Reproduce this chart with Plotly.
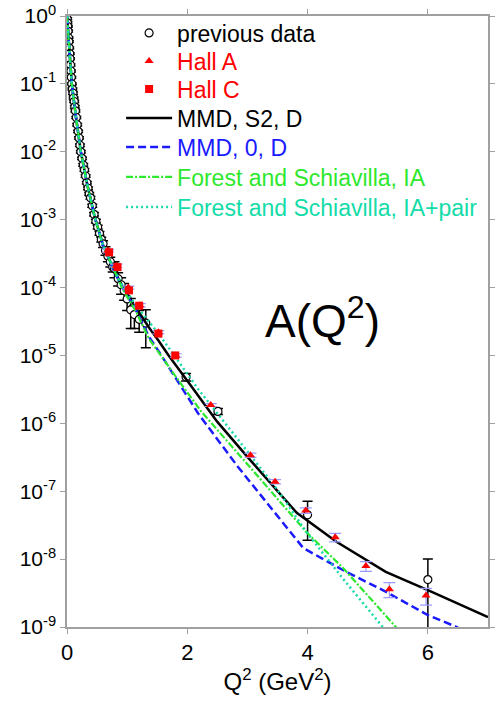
import plotly.graph_objects as go

# ---------------- data ----------------
# previous data: Q^2 (GeV^2), A, error
prev_q2 = [0.003, 0.008, 0.012, 0.018, 0.025, 0.03, 0.037, 0.045, 0.05, 0.058,
           0.065, 0.072, 0.08, 0.09, 0.10, 0.11, 0.12, 0.13, 0.14, 0.155,
           0.17, 0.185, 0.20, 0.215, 0.23, 0.25, 0.27, 0.29, 0.31, 0.33,
           0.35, 0.37, 0.39, 0.42, 0.45, 0.48, 0.51, 0.54, 0.57, 0.60,
           0.64, 0.68, 0.72, 0.76, 0.79, 0.85, 0.90, 0.95, 1.00, 1.06,
           1.12, 1.20, 1.31, 1.98, 2.51, 4.00, 6.00]
prev_a = [0.91, 0.79, 0.70, 0.60, 0.48, 0.42, 0.34, 0.28, 0.235, 0.19,
          0.155, 0.125, 0.10, 0.084, 0.073, 0.062, 0.055, 0.046, 0.040, 0.032,
          0.025, 0.020, 0.016, 0.0125, 0.010, 0.0080, 0.0064, 0.0054, 0.0044, 0.0035,
          0.0029, 0.0024, 0.0021, 0.0016, 0.0012, 9.5e-4, 7.8e-4, 6.3e-4, 5.1e-4, 4.4e-4,
          3.5e-4, 2.9e-4, 2.4e-4, 2.0e-4, 1.9e-4, 1.35e-4, 1.1e-4, 9.0e-5, 6.8e-5, 4.7e-5,
          4.0e-5, 3.4e-5, 3.0e-5, 4.8e-6, 1.5e-6, 4.5e-8, 5.0e-9]
prev_err = [0.03, 0.03, 0.02, 0.02, 0.015, 0.012, 0.01, 0.008, 0.007, 0.006,
            0.005, 0.004, 0.003, 0.003, 0.003, 0.002, 0.002, 0.002, 0.0015, 0.0012,
            0.001, 8e-4, 6e-4, 5e-4, 4e-4, 3e-4, 3e-4, 2.5e-4, 2e-4, 1.6e-4,
            1.4e-4, 1.2e-4, 1e-4, 8e-5, 7e-5, 6e-5, 5e-5, 4e-5, 4e-5, 5e-5,
            5e-5, 5e-5, 4e-5, 3e-5, 5e-5, 3e-5, 3e-5, 2.5e-5, 2.2e-5, 2.2e-5,
            1.5e-5, 1.2e-5, 1.7e-5, 6e-7, 1.5e-7, 2.6e-8, 5.0e-9]

halla_q2 = [0.68, 0.82, 1.02, 1.21, 1.52, 1.81, 2.39, 3.05, 3.46, 3.97, 4.46, 4.97, 5.36, 5.97]
halla_a = [3.5e-4, 2.1e-4, 1.0e-4, 5.5e-5, 2.2e-5, 1.0e-5, 1.86e-6, 3.4e-7, 1.38e-7,
           5.2e-8, 2.1e-8, 7.9e-9, 3.6e-9, 2.9e-9]
halla_err = [1.8e-5, 1.1e-5, 5e-6, 3e-6, 1.2e-6, 6e-7, 9e-8, 2.4e-8, 1.0e-8,
             5e-9, 3e-9, 1.3e-9, 0.9e-9, 0.8e-9]

hallc_q2 = [0.70, 0.84, 1.03, 1.20, 1.52, 1.80]
hallc_a = [3.3e-4, 2.0e-4, 9.1e-5, 5.4e-5, 2.1e-5, 1.0e-5]

mmd_s2_q2 = [0.0, 0.04, 0.08, 0.15, 0.23, 0.34, 0.46, 0.60, 0.77, 0.93, 1.15, 1.36,
             1.52, 1.69, 2.07, 2.50, 3.00, 3.82, 4.48, 5.30, 6.00, 7.00]
mmd_s2_a = [1.0, 0.30, 0.10, 0.032, 0.010, 3.2e-3, 1.1e-3, 4.2e-4, 1.9e-4, 1.0e-4, 5.0e-5, 2.6e-5,
            1.66e-5, 1.0e-5, 3.5e-6, 1.05e-6, 3.2e-7, 4.8e-8, 1.8e-8, 6.5e-9, 3.5e-9, 1.4e-9]

mmd_0_q2 = [0.0, 0.04, 0.08, 0.15, 0.23, 0.34, 0.46, 0.60, 0.77, 0.93, 1.15, 1.36,
            1.52, 2.18, 2.84, 3.93, 4.64, 5.25, 6.00, 6.48, 6.60]
mmd_0_a = [1.0, 0.30, 0.10, 0.032, 0.010, 3.2e-3, 1.1e-3, 4.1e-4, 1.85e-4, 9.6e-5, 4.6e-5, 1.9e-5,
           1.17e-5, 1.4e-6, 2.3e-7, 1.45e-8, 6.5e-9, 3.5e-9, 1.5e-9, 1.0e-9, 8.5e-10]

fs_ia_q2 = [0.0, 0.04, 0.08, 0.15, 0.23, 0.34, 0.46, 0.60, 0.77, 0.93, 1.15, 1.36,
            1.80, 2.23, 3.00, 3.98, 4.59, 5.43, 5.55]
fs_ia_a = [1.0, 0.30, 0.10, 0.032, 0.010, 3.2e-3, 1.1e-3, 4.1e-4, 1.85e-4, 9.3e-5, 4.4e-5, 1.78e-5,
           5.0e-6, 1.5e-6, 2.5e-7, 2.5e-8, 7.4e-9, 1.07e-9, 8.3e-10]

fs_pair_q2 = [0.0, 0.04, 0.08, 0.15, 0.23, 0.34, 0.46, 0.60, 0.77, 0.93, 1.15, 1.54,
              2.18, 2.78, 3.00, 3.50, 3.98, 4.60, 5.25, 5.35]
fs_pair_a = [1.0, 0.30, 0.10, 0.032, 0.010, 3.2e-3, 1.1e-3, 4.2e-4, 1.9e-4, 1.05e-4, 5.4e-5, 2.0e-5,
             3.2e-6, 6.8e-7, 3.8e-7, 1.05e-7, 2.5e-8, 5.0e-9, 1.0e-9, 7.9e-10]

y_tickvals = [1, 1e-1, 1e-2, 1e-3, 1e-4, 1e-5, 1e-6, 1e-7, 1e-8, 1e-9]
y_ticktext = ["10<sup>0</sup>", "10<sup>-1</sup>", "10<sup>-2</sup>", "10<sup>-3</sup>",
              "10<sup>-4</sup>", "10<sup>-5</sup>", "10<sup>-6</sup>", "10<sup>-7</sup>",
              "10<sup>-8</sup>", "10<sup>-9</sup>"]
x_tickvals = [0, 2, 4, 6]

legend_names = ["previous data", "Hall A", "Hall C", "MMD, S2, D", "MMD, 0, D",
                "Forest and Schiavilla, IA", "Forest and Schiavilla, IA+pair"]

# ---------------- styles ----------------
FONT = "Liberation Sans, Arial, sans-serif"
RED = "#ff0000"
BLUE = "#1a1aff"
GREEN = "#2ee82e"
TEAL = "#14dca8"
AXIS = "#a0a0a0"

# one small legend per row (row centres in paper coords of the plot area)
row_y = [0.9722, 0.9264, 0.8805, 0.8331, 0.7856, 0.7365, 0.6874]
row_col = ["black", RED, RED, "black", BLUE, GREEN, TEAL]
LEG_X = 0.1285
LEG_ITEMW = 46

fig = go.Figure()

fig.add_trace(go.Scatter(
    x=prev_q2, y=prev_a, mode="markers", name=legend_names[0], legend="legend",
    marker=dict(symbol="circle", size=8, color="white", line=dict(color="black", width=1.2)),
    error_y=dict(type="data", array=prev_err, color="black", thickness=1.5, width=5),
))
fig.add_trace(go.Scatter(
    x=mmd_s2_q2, y=mmd_s2_a, mode="lines", name=legend_names[3], legend="legend4",
    line=dict(color="black", width=2.5),
))
fig.add_trace(go.Scatter(
    x=mmd_0_q2, y=mmd_0_a, mode="lines", name=legend_names[4], legend="legend5",
    line=dict(color=BLUE, width=2.5, dash="8px,4px"),
))
fig.add_trace(go.Scatter(
    x=fs_ia_q2, y=fs_ia_a, mode="lines", name=legend_names[5], legend="legend6",
    line=dict(color=GREEN, width=2.2, dash="7px,2px,2px,2px"),
))
fig.add_trace(go.Scatter(
    x=fs_pair_q2, y=fs_pair_a, mode="lines", name=legend_names[6], legend="legend7",
    line=dict(color=TEAL, width=2.5, dash="2px,3px"),
))
fig.add_trace(go.Scatter(
    x=halla_q2, y=halla_a, mode="markers", name=legend_names[1], legend="legend2",
    marker=dict(symbol="triangle-up", size=8, color=RED),
    error_y=dict(type="data", array=halla_err, color="#9a9aff", thickness=1.2, width=6),
))
fig.add_trace(go.Scatter(
    x=hallc_q2, y=hallc_a, mode="markers", name=legend_names[2], legend="legend3",
    marker=dict(symbol="square", size=8, color=RED),
))

fig.add_annotation(x=4.25, y=-4.45, xref="x", yref="y", text="A(Q<sup>2</sup>)",
                   showarrow=False, font=dict(family=FONT, size=46, color="black"))

fig.update_xaxes(
    range=[0, 7], tickvals=x_tickvals, showline=True, linecolor=AXIS, linewidth=1.5,
    mirror="ticks", ticks="outside", ticklen=5, tickcolor=AXIS, tickwidth=1.2,
    showgrid=False, zeroline=False,
    tickfont=dict(family=FONT, size=22, color="black"),
    title=dict(text="Q<sup>2</sup> (GeV<sup>2</sup>)", font=dict(family=FONT, size=24, color="black"),
               standoff=8),
)
fig.update_yaxes(
    type="log", range=[-9, 0], tickvals=y_tickvals, ticktext=y_ticktext,
    showline=True, linecolor=AXIS, linewidth=1.5,
    mirror="ticks", ticks="outside", ticklen=5, tickcolor=AXIS, tickwidth=1.2,
    showgrid=False, zeroline=False,
    tickfont=dict(family=FONT, size=21, color="black"),
)

layout_legends = {}
for i in range(7):
    key = "legend" if i == 0 else "legend%d" % (i + 1)
    layout_legends[key] = dict(
        x=LEG_X, y=row_y[i], xanchor="left", yanchor="middle",
        bgcolor="rgba(0,0,0,0)", borderwidth=0, itemwidth=LEG_ITEMW,
        font=dict(family=FONT, size=23, color=row_col[i]),
    )

fig.update_layout(
    width=497, height=705,
    margin=dict(l=67, r=2, t=16, b=78),
    plot_bgcolor="white", paper_bgcolor="white",
    font=dict(family=FONT, color="black"),
    showlegend=True,
    **layout_legends,
)

fig.write_html("out.html")
